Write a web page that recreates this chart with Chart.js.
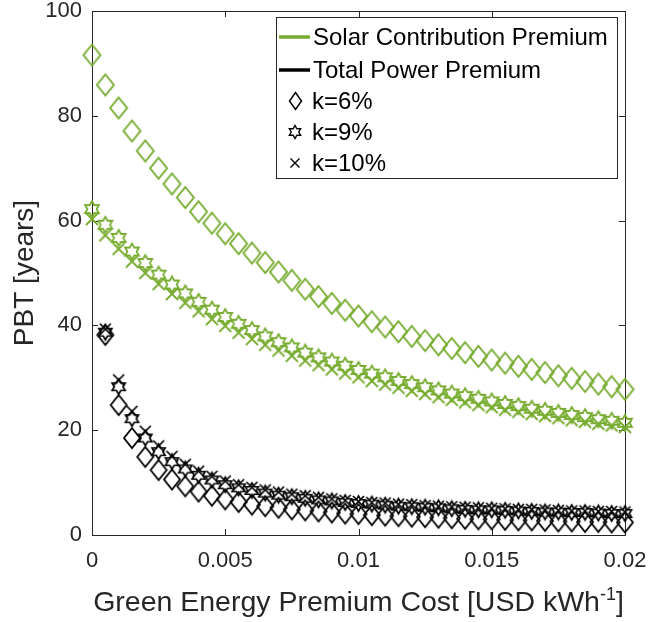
<!DOCTYPE html>
<html lang="en">
<head>
<meta charset="UTF-8">
<title>PBT vs green energy premium</title>
<script src="https://cdn.jsdelivr.net/npm/chart.js@4.4.0/dist/chart.umd.min.js"></script>
<style>
  body { margin: 0; background: #fff; }
  canvas { display: block; }
</style>
</head>
<body>
<canvas id="pbtChart" width="652" height="622"></canvas>
<script>
// premium cost [USD/kWh]
var premiumCost = [0, 0.0005, 0.001, 0.0015, 0.002, 0.0025, 0.003, 0.0035, 0.004, 0.0045,
    0.005, 0.0055, 0.006, 0.0065, 0.007, 0.0075, 0.008, 0.0085, 0.009, 0.0095,
    0.01, 0.0105, 0.011, 0.0115, 0.012, 0.0125, 0.013, 0.0135, 0.014, 0.0145,
    0.015, 0.0155, 0.016, 0.0165, 0.017, 0.0175, 0.018, 0.0185, 0.019, 0.0195, 0.02];

// solar contribution premium (green)
var solarK6 = [91.6, 85.9, 81.5, 77.1, 73.3, 70.0, 67.0, 64.4, 61.7, 59.5,
    57.5, 55.6, 53.8, 52.0, 50.2, 48.6, 46.9, 45.5, 44.2, 42.9,
    41.8, 40.7, 39.7, 38.8, 37.9, 37.1, 36.3, 35.6, 34.8, 34.1,
    33.4, 32.8, 32.2, 31.6, 31.0, 30.4, 29.9, 29.3, 28.8, 28.3, 27.8];
var solarK9 = [62.2, 59.2, 56.7, 54.1, 51.9, 49.7, 47.8, 46.1, 44.5, 43.0,
    41.6, 40.3, 39.1, 37.9, 36.8, 35.8, 34.8, 33.9, 33.1, 32.3,
    31.5, 30.8, 30.1, 29.4, 28.8, 28.2, 27.6, 27.0, 26.5, 26.0,
    25.5, 25.0, 24.6, 24.1, 23.7, 23.3, 22.9, 22.5, 22.1, 21.8, 21.4];
var solarK10 = [60.3, 57.2, 54.6, 52.2, 50.0, 47.9, 46.0, 44.3, 42.7, 41.2,
    39.9, 38.6, 37.4, 36.3, 35.2, 34.2, 33.3, 32.4, 31.6, 30.8,
    30.1, 29.4, 28.7, 28.1, 27.5, 26.9, 26.3, 25.8, 25.3, 24.8,
    24.4, 23.9, 23.5, 23.1, 22.7, 22.3, 21.9, 21.6, 21.2, 20.9, 20.6];

// total power premium (black)
var totalK6 = [null, 38.2, 24.8, 18.5, 14.9, 12.4, 10.6, 9.3, 8.3, 7.5,
    6.8, 6.3, 5.8, 5.5, 5.2, 4.9, 4.7, 4.5, 4.3, 4.1,
    4.0, 3.8, 3.7, 3.6, 3.5, 3.4, 3.3, 3.2, 3.1, 3.0,
    3.0, 2.9, 2.8, 2.8, 2.7, 2.6, 2.6, 2.5, 2.5, 2.4, 2.4];
var totalK9 = [null, 38.7, 28.3, 22.2, 18.5, 15.9, 14.0, 12.6, 11.4, 10.5,
    9.6, 9.0, 8.5, 8.0, 7.6, 7.3, 7.0, 6.7, 6.5, 6.2,
    6.0, 5.9, 5.7, 5.5, 5.4, 5.3, 5.2, 5.0, 4.9, 4.8,
    4.8, 4.7, 4.6, 4.5, 4.4, 4.4, 4.3, 4.3, 4.2, 4.1, 4.1];
var totalK10 = [null, 39.3, 29.6, 23.6, 19.8, 17.0, 15.0, 13.5, 12.2, 11.2,
    10.3, 9.6, 9.1, 8.6, 8.2, 7.8, 7.5, 7.2, 6.9, 6.6,
    6.4, 6.2, 6.1, 5.9, 5.8, 5.6, 5.5, 5.4, 5.3, 5.2,
    5.1, 5.0, 4.9, 4.9, 4.8, 4.7, 4.6, 4.6, 4.5, 4.5, 4.4];

var xTicks = [0, 0.005, 0.01, 0.015, 0.02];
var yTicks = [0, 20, 40, 60, 80, 100];
var legendLabels = ['Solar Contribution Premium', 'Total Power Premium', 'k=6%', 'k=9%', 'k=10%'];

var green = '#77AC30';
var black = '#000000';
var axisColor = '#262626';
var fontFamily = '"Liberation Sans", Arial, Helvetica, sans-serif';

// marker images (matlab style: diamond, hexagram, x)
function makeDiamond(color, w, h, lw) {
    var c = document.createElement('canvas');
    c.width = Math.ceil(w + lw * 2 + 2);
    c.height = Math.ceil(h + lw * 2 + 2);
    var g = c.getContext('2d');
    var cx = c.width / 2, cy = c.height / 2;
    g.strokeStyle = color;
    g.lineWidth = lw;
    g.beginPath();
    g.moveTo(cx, cy - h / 2);
    g.lineTo(cx + w / 2, cy);
    g.lineTo(cx, cy + h / 2);
    g.lineTo(cx - w / 2, cy);
    g.closePath();
    g.stroke();
    return c;
}

function makeHexagram(color, r, lw) {
    var c = document.createElement('canvas');
    c.width = c.height = Math.ceil(r * 2 + lw * 2 + 2);
    var g = c.getContext('2d');
    var cx = c.width / 2, cy = c.height / 2;
    var inner = r * 0.577;
    g.strokeStyle = color;
    g.lineWidth = lw;
    g.beginPath();
    for (var k = 0; k < 12; k++) {
        var a = -Math.PI / 2 + k * Math.PI / 6;
        var rr = (k % 2 === 0) ? r : inner;
        var px = cx + rr * Math.cos(a), py = cy + rr * Math.sin(a);
        if (k === 0) g.moveTo(px, py); else g.lineTo(px, py);
    }
    g.closePath();
    g.stroke();
    return c;
}

function makeCross(color, s, lw) {
    var c = document.createElement('canvas');
    c.width = c.height = Math.ceil(s + lw * 2 + 2);
    var g = c.getContext('2d');
    var cx = c.width / 2, cy = c.height / 2;
    g.strokeStyle = color;
    g.lineWidth = lw;
    g.beginPath();
    g.moveTo(cx - s / 2, cy - s / 2); g.lineTo(cx + s / 2, cy + s / 2);
    g.moveTo(cx + s / 2, cy - s / 2); g.lineTo(cx - s / 2, cy + s / 2);
    g.stroke();
    return c;
}

var greenDiamond = makeDiamond(green, 17, 21, 1.9);
var greenStar = makeHexagram(green, 8, 1.8);
var greenCross = makeCross(green, 12, 1.8);
var blackDiamond = makeDiamond(black, 16, 20, 1.8);
var blackStar = makeHexagram(black, 7.5, 1.7);
var blackCross = makeCross(black, 11, 1.7);

var legDiamond = makeDiamond(black, 12, 17, 1.5);
var legStar = makeHexagram(black, 6.5, 1.4);
var legCross = makeCross(black, 9, 1.4);

function pairs(values) {
    var out = [];
    for (var i = 0; i < premiumCost.length; i++) {
        if (values[i] !== null) out.push({ x: premiumCost[i], y: values[i] });
    }
    return out;
}

function series(label, values, img) {
    return {
        label: label,
        data: pairs(values),
        showLine: false,
        pointStyle: img,
        pointRadius: 8,
        clip: false
    };
}

// axis box with inward ticks
var boxPlugin = {
    id: 'matlabBox',
    beforeDatasetsDraw: function (chart) {
        var ctx = chart.ctx, a = chart.chartArea;
        var xs = chart.scales.x, ys = chart.scales.y;
        ctx.save();
        ctx.strokeStyle = axisColor;
        ctx.lineWidth = 1;
        ctx.strokeRect(Math.round(a.left) + 0.5, Math.round(a.top) + 0.5,
            Math.round(a.right - a.left), Math.round(a.bottom - a.top));
        ctx.beginPath();
        xTicks.forEach(function (v) {
            var px = Math.round(xs.getPixelForValue(v)) + 0.5;
            ctx.moveTo(px, a.bottom); ctx.lineTo(px, a.bottom - 6);
            ctx.moveTo(px, a.top); ctx.lineTo(px, a.top + 6);
        });
        yTicks.forEach(function (v) {
            var py = Math.round(ys.getPixelForValue(v)) + 0.5;
            ctx.moveTo(a.left, py); ctx.lineTo(a.left + 6, py);
            ctx.moveTo(a.right, py); ctx.lineTo(a.right - 6, py);
        });
        ctx.stroke();
        ctx.restore();
    }
};

// x title with superscript
var xTitlePlugin = {
    id: 'xTitle',
    afterDraw: function (chart) {
        var ctx = chart.ctx, a = chart.chartArea;
        var main = 'Green Energy Premium Cost [USD kWh';
        var sup = '-1';
        var tail = ']';
        var big = '28.5px ' + fontFamily, small = '18px ' + fontFamily;
        ctx.save();
        ctx.fillStyle = axisColor;
        ctx.textBaseline = 'alphabetic';
        ctx.font = big;
        var w1 = ctx.measureText(main).width;
        var w3 = ctx.measureText(tail).width;
        ctx.font = small;
        var w2 = ctx.measureText(sup).width;
        var x0 = (a.left + a.right) / 2 - (w1 + w2 + w3) / 2;
        var base = 611;
        ctx.font = big;
        ctx.fillText(main, x0, base);
        ctx.font = small;
        ctx.fillText(sup, x0 + w1, base - 11);
        ctx.font = big;
        ctx.fillText(tail, x0 + w1 + w2, base);
        ctx.restore();
    }
};

// legend box inside the axes
var legendPlugin = {
    id: 'boxLegend',
    afterDraw: function (chart) {
        var ctx = chart.ctx;
        var left = 276, top = 17, w = 341, h = 161;
        var rows = [37, 70, 101, 132, 163];
        ctx.save();
        ctx.fillStyle = '#fff';
        ctx.fillRect(left, top, w, h);
        ctx.strokeStyle = axisColor;
        ctx.lineWidth = 1;
        ctx.strokeRect(left + 0.5, top + 0.5, w, h);

        ctx.lineWidth = 3.5;
        ctx.strokeStyle = green;
        ctx.beginPath(); ctx.moveTo(279, rows[0]); ctx.lineTo(310, rows[0]); ctx.stroke();
        ctx.strokeStyle = black;
        ctx.beginPath(); ctx.moveTo(279, rows[1]); ctx.lineTo(310, rows[1]); ctx.stroke();

        [legDiamond, legStar, legCross].forEach(function (img, i) {
            ctx.drawImage(img, Math.round(295 - img.width / 2), Math.round(rows[i + 2] - img.height / 2));
        });

        ctx.fillStyle = '#000';
        ctx.font = '24px ' + fontFamily;
        ctx.textBaseline = 'middle';
        ctx.fillText(legendLabels[0], 313, rows[0] + 1);
        ctx.fillText(legendLabels[1], 313, rows[1] + 1);
        ctx.fillText(legendLabels[2], 312, rows[2] + 1);
        ctx.fillText(legendLabels[3], 312, rows[3] + 1);
        ctx.fillText(legendLabels[4], 312, rows[4] + 1);
        ctx.restore();
    }
};

var ctx = document.getElementById('pbtChart');
var chart = new Chart(ctx, {
    type: 'scatter',
    data: {
        datasets: [
            series('Total k=10%', totalK10, blackCross),
            series('Total k=9%', totalK9, blackStar),
            series('Total k=6%', totalK6, blackDiamond),
            series('Solar k=10%', solarK10, greenCross),
            series('Solar k=9%', solarK9, greenStar),
            series('Solar k=6%', solarK6, greenDiamond)
        ]
    },
    options: {
        responsive: false,
        animation: false,
        devicePixelRatio: 1,
        layout: { padding: { left: 0, right: 27, top: 11, bottom: 0 } },
        plugins: {
            legend: { display: false },
            tooltip: { enabled: false }
        },
        scales: {
            x: {
                type: 'linear',
                min: 0,
                max: 0.02,
                grid: { display: false, drawTicks: false },
                border: { display: false },
                ticks: {
                    stepSize: 0.005,
                    padding: 13,
                    color: axisColor,
                    font: { family: fontFamily, size: 22 },
                    maxRotation: 0,
                    callback: function (v) { return String(+v.toFixed(4)); }
                },
                afterFit: function (scale) {
                    scale.height = 87;
                    scale.paddingLeft = 0;
                    scale.paddingRight = 0;
                }
            },
            y: {
                min: 0,
                max: 100,
                grid: { display: false, drawTicks: false },
                border: { display: false },
                ticks: {
                    stepSize: 20,
                    padding: 10,
                    color: axisColor,
                    font: { family: fontFamily, size: 22 }
                },
                title: {
                    display: true,
                    text: 'PBT [years]',
                    color: axisColor,
                    font: { family: fontFamily, size: 28 },
                    padding: { top: 8, bottom: 0 }
                },
                afterFit: function (scale) {
                    scale.width = 92;
                    scale.paddingTop = 0;
                    scale.paddingBottom = 0;
                }
            }
        }
    },
    plugins: [boxPlugin, xTitlePlugin, legendPlugin]
});
</script>
</body>
</html>
